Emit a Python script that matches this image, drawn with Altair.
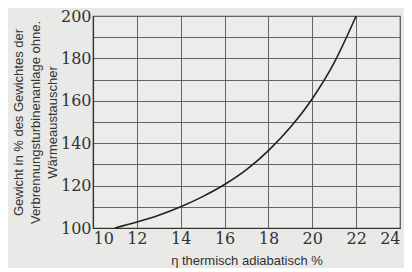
import altair as alt
import pandas as pd

eta = [11, 12, 13, 14, 15, 16, 17, 18, 19, 20, 21, 22]
gewicht = [100, 102.8, 106, 110, 114.8, 120.5, 127.5, 136.5, 147.5, 161, 178, 200]

x_ticks = [10, 12, 14, 16, 18, 20, 22, 24]
y_grid = [100, 110, 120, 130, 140, 150, 160, 170, 180, 190, 200]

y_title = ["Gewicht in % des Gewichtes der", "Verbrennungsturbinenanlage ohne.", "Wärmeaustauscher"]
x_title = "η thermisch adiabatisch %"

df = pd.DataFrame({"eta": eta, "gewicht": gewicht})

chart = alt.Chart(df).mark_line(color="#222222", strokeWidth=1.6, interpolate="monotone").encode(
    x=alt.X("eta:Q", scale=alt.Scale(domain=[10, 24], nice=False),
            axis=alt.Axis(values=x_ticks, title=x_title, format="d")),
    y=alt.Y("gewicht:Q", scale=alt.Scale(domain=[100, 200], nice=False, zero=False),
            axis=alt.Axis(values=y_grid, title=y_title,
                          labelExpr="datum.value % 20 == 0 ? datum.label : ''")),
).properties(
    width=307, height=212,
    background="#e9e9e7",
    padding={"left": 85, "top": 8, "right": 4, "bottom": 40},
    autosize=alt.AutoSizeParams(type="none"),
).configure_view(
    stroke="#444444", strokeWidth=1.2, fill="#ececea"
).configure_axis(
    grid=True, gridColor="#666666", gridWidth=1,
    domainColor="#333333", domainWidth=1.2,
    ticks=False, labelPadding=2,
    labelFont="DejaVu Serif", labelFontSize=16, labelColor="#333333",
    titleFont="Liberation Sans", titleFontSize=13, titleFontWeight="normal", titleColor="#333333",
    titleLineHeight=17,
).configure_axisY(
    titlePadding=1, labelBaseline="middle"
).configure_axisX(
    titlePadding=8
)

chart.save("out.html", embed_options={"renderer": "svg", "actions": False})
